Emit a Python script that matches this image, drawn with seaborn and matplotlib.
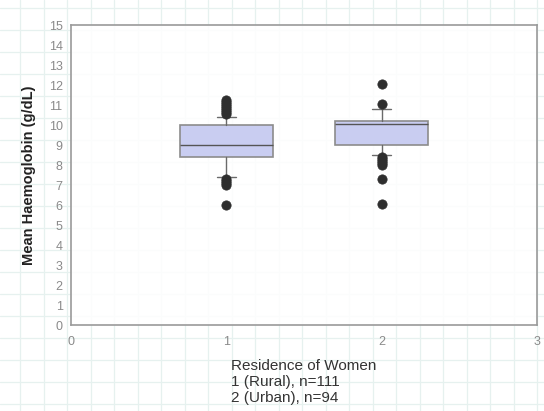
import matplotlib
matplotlib.use("Agg")
import matplotlib.pyplot as plt
import seaborn as sns
import pandas as pd
import numpy as np

# box statistics (whiskers at 10th / 90th percentile)
groups = [1, 2]
q1 = [8.4, 9.0]
medians = [9.0, 10.05]
q3 = [10.0, 10.2]
whisker_low = [7.4, 8.5]
whisker_high = [10.4, 10.8]

# points outside the whiskers
rural_outliers = [11.25, 11.15, 11.05, 10.95, 10.85, 10.75, 10.65, 10.55,
                  7.3, 7.2, 7.1, 7.0, 6.0]
urban_outliers = [12.05, 11.05, 8.4, 8.3, 8.2, 8.1, 8.0, 7.3, 6.05]

y_ticks = list(range(0, 16))
x_ticks = [0, 1, 2, 3]

x_label = "Residence of Women\n1 (Rural), n=111\n2 (Urban), n=94"
y_label = "Mean Haemoglobin (g/dL)"

# Set seaborn style
sns.set_style("white")
plt.rcParams['font.family'] = ['Liberation Sans', 'DejaVu Sans']

fig = plt.figure(figsize=(5.44, 4.11), dpi=100)

# faint graph paper behind everything (the scanned page)
bg = fig.add_axes([0, 0, 1, 1], zorder=0)
bg.set_xlim(0, 544)
bg.set_ylim(411, 0)
for gx in np.arange(20, 544, 23.5):
    bg.axvline(gx, color='#e6f1ef', lw=0.9)
for gy in np.arange(8, 411, 22):
    bg.axhline(gy, color='#e6f1ef', lw=0.9)
bg.axis('off')

ax = fig.add_axes([0.1305, 0.209, 0.857, 0.730], zorder=1)
ax.patch.set_facecolor('white')
ax.patch.set_alpha(0.85)

# boxes from the read statistics
stats = []
for i in range(len(groups)):
    stats.append(dict(med=medians[i], q1=q1[i], q3=q3[i],
                      whislo=whisker_low[i], whishi=whisker_high[i], fliers=[]))
ax.bxp(stats, positions=groups, widths=0.6, capwidths=0.12,
       patch_artist=True, showfliers=False,
       boxprops=dict(facecolor='#c9cdf1', edgecolor='#8c8c8c', lw=1.2),
       medianprops=dict(color='#555555', lw=1),
       whiskerprops=dict(color='#6a6a6a', lw=1),
       capprops=dict(color='#6a6a6a', lw=1))

# outliers
out = pd.DataFrame({
    'group': [1] * len(rural_outliers) + [2] * len(urban_outliers),
    'value': rural_outliers + urban_outliers,
})
sns.scatterplot(data=out, x='group', y='value', ax=ax, color='#2e2e2e',
                s=45, edgecolor='#2e2e2e', linewidth=0.5, zorder=3, legend=False)

ax.set_xlim(0, 3)
ax.set_ylim(0, 15)
ax.set_xticks(x_ticks)
ax.set_xticklabels([str(t) for t in x_ticks])
ax.set_yticks(y_ticks)
ax.set_yticklabels([str(t) for t in y_ticks])
ax.tick_params(axis='both', colors='#8a8a8a', labelsize=9, length=3)
ax.tick_params(axis='x', direction='in', pad=8)
ax.tick_params(axis='y', direction='out', pad=3)

for side in ['left', 'right', 'top', 'bottom']:
    ax.spines[side].set_color('#9a9a9a')
    ax.spines[side].set_linewidth(1.2)

# Adding labels
ax.set_xlabel(x_label, fontsize=11, color='#333333', multialignment='left',
              linespacing=1.18, labelpad=8)
ax.set_ylabel(y_label, fontsize=10.5, fontweight='bold', color='#222222', labelpad=9)

plt.savefig('out.png', dpi=100)
